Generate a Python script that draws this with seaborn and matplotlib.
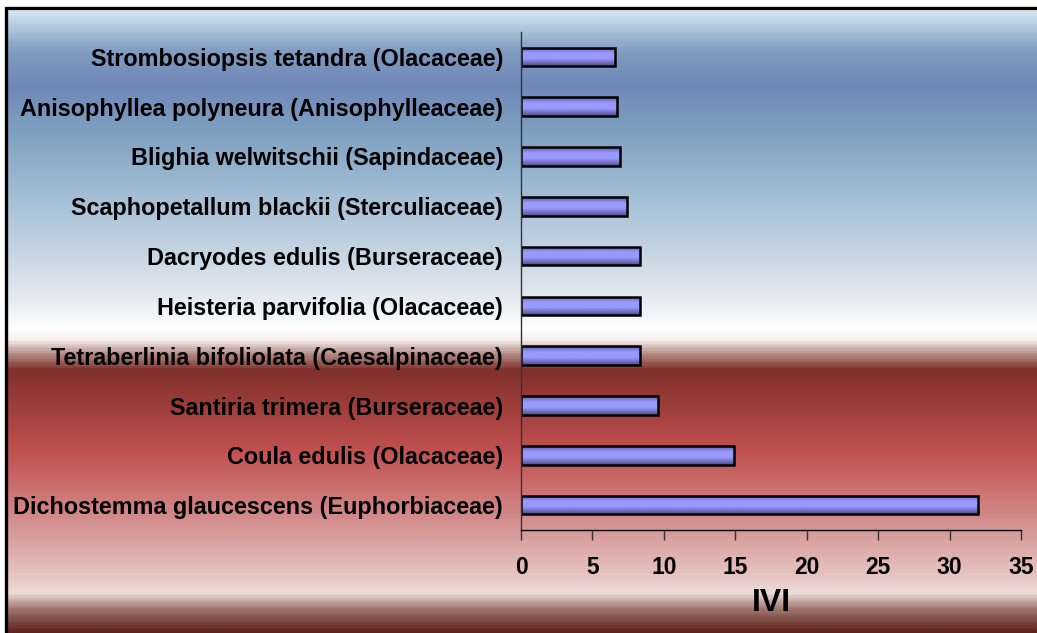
import numpy as np
import pandas as pd
import matplotlib
matplotlib.use("Agg")
import matplotlib.pyplot as plt
from matplotlib.colors import LinearSegmentedColormap
import seaborn as sns

species = [
    "Strombosiopsis tetandra (Olacaceae)",
    "Anisophyllea polyneura (Anisophylleaceae)",
    "Blighia welwitschii (Sapindaceae)",
    "Scaphopetallum blackii (Sterculiaceae)",
    "Dacryodes edulis (Burseraceae)",
    "Heisteria parvifolia (Olacaceae)",
    "Tetraberlinia bifoliolata (Caesalpinaceae)",
    "Santiria trimera (Burseraceae)",
    "Coula edulis (Olacaceae)",
    "Dichostemma glaucescens (Euphorbiaceae)",
]
ivi = [6.6, 6.7, 6.9, 7.4, 8.3, 8.3, 8.3, 9.6, 14.9, 32.0]
xticks = [0, 5, 10, 15, 20, 25, 30, 35]

df = pd.DataFrame({"species": species, "IVI": ivi})

sns.set_theme(style="white")
plt.rcParams["font.family"] = ["Liberation Sans", "DejaVu Sans"]
plt.rcParams["text.color"] = "black"
plt.rcParams["xtick.color"] = "black"
plt.rcParams["ytick.color"] = "black"
plt.rcParams["axes.labelcolor"] = "black"

W, H = 1037, 633
fig = plt.figure(figsize=(W / 100, H / 100), dpi=100)

# background gradient (figure level)
bg_stops = [
    (0.000, "#ffffff"), (0.012, "#ffffff"), (0.016, "#d4e4f0"),
    (0.047, "#a8c0d8"), (0.079, "#809cc0"), (0.134, "#7088b8"),
    (0.205, "#7ea0c0"), (0.300, "#a0bcd4"), (0.395, "#c4d4e2"),
    (0.474, "#e6ecf2"), (0.521, "#ffffff"), (0.537, "#f6eeee"),
    (0.561, "#b08880"), (0.585, "#80302c"), (0.632, "#983c38"),
    (0.711, "#c05050"), (0.774, "#cc7070"), (0.853, "#d8a0a0"),
    (0.916, "#e8c8c4"), (0.940, "#ecdcd8"), (0.964, "#a07870"),
    (1.000, "#602420"),
]
bg_cmap = LinearSegmentedColormap.from_list("bg", bg_stops)
bgax = fig.add_axes([0, 0, 1, 1], zorder=0)
grad = np.linspace(0, 1, 600).reshape(-1, 1)
bgax.imshow(grad, cmap=bg_cmap, aspect="auto", extent=[0, 1, 1, 0])
bgax.set_xlim(0, 1)
bgax.set_ylim(1, 0)
bgax.axis("off")
# white strip on the left of the border
bgax.fill_between([0, 6 / W], 0, 1, color="white", zorder=2)
# border (top and left)
bx0, by0 = 6 / W, 8 / H
bgax.plot([bx0, bx0, 1.0], [1.0, by0, by0], color="black", lw=2.4,
          solid_joinstyle="miter", zorder=3)

ax = fig.add_axes([521 / W, 1 - 530 / H, 500 / W, (530 - 32) / H], zorder=1)
ax.patch.set_alpha(0)

sns.barplot(data=df, x="IVI", y="species", order=species, orient="h",
            color="#9999ff", edgecolor="black", linewidth=1.8, width=0.37,
            saturation=1, ax=ax)

# gradient shading inside bars
bar_cmap = LinearSegmentedColormap.from_list(
    "bar", [(0, "#5c5ca0"), (0.3, "#9999ff"), (0.6, "#9999ff"), (1, "#50508a")])
for p in ax.patches:
    x0, y0 = p.get_x(), p.get_y()
    w, h = p.get_width(), p.get_height()
    im = ax.imshow(np.linspace(0, 1, 50).reshape(-1, 1), cmap=bar_cmap,
                   aspect="auto", extent=[x0, x0 + w, y0 + h, y0],
                   zorder=p.get_zorder() + 0.1)
    im.set_clip_path(p)
    p.set_facecolor("none")
    p.set_zorder(p.get_zorder() + 0.2)

ax.set_xlim(0, 35)
ax.set_ylim(len(species) - 0.5, -0.5)
ax.set_xticks(xticks)
ax.set_xticklabels([str(t) for t in xticks], fontsize=16.5, fontweight="bold")
ax.tick_params(axis="x", which="both", bottom=True, length=7, width=1,
               color="#333333", pad=12)
ax.tick_params(axis="y", left=False, length=0, pad=13)
for lbl in ax.get_yticklabels():
    lbl.set_fontsize(16.8)
    lbl.set_fontweight("bold")
ax.set_ylabel("")
ax.set_xlabel("IVI", fontsize=23, fontweight="bold", labelpad=6)
for s in ["top", "right"]:
    ax.spines[s].set_visible(False)
ax.spines["left"].set_color("#333333")
ax.spines["left"].set_linewidth(1)
ax.spines["bottom"].set_color("black")
ax.spines["bottom"].set_linewidth(1)
ax.grid(False)

fig.savefig("out.png", dpi=100)
